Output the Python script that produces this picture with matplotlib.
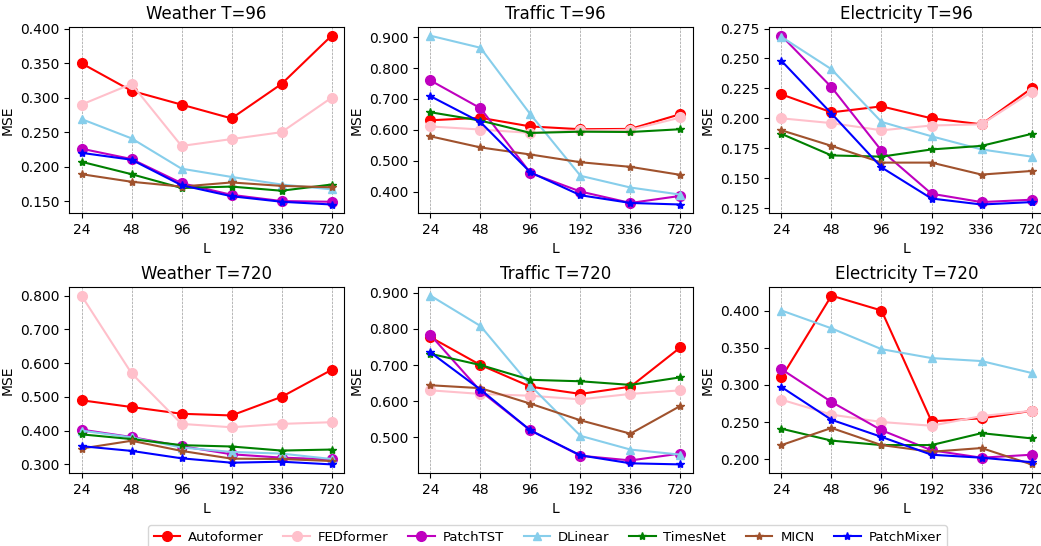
import matplotlib
matplotlib.use('Agg')
import matplotlib.pyplot as plt
from matplotlib.ticker import FormatStrFormatter, MultipleLocator

L = ['24', '48', '96', '192', '336', '720']

models = ['Autoformer', 'FEDformer', 'PatchTST', 'DLinear', 'TimesNet', 'MICN', 'PatchMixer']
colors = ['red', 'pink', 'm', 'skyblue', 'green', 'sienna', 'blue']
markers = ['o', 'o', 'o', '^', '*', '*', '*']

# Weather T=96
weather_96 = [
    [0.350, 0.310, 0.290, 0.270, 0.320, 0.390],
    [0.290, 0.320, 0.230, 0.240, 0.250, 0.300],
    [0.226, 0.211, 0.176, 0.159, 0.150, 0.149],
    [0.269, 0.241, 0.197, 0.185, 0.174, 0.167],
    [0.207, 0.189, 0.169, 0.171, 0.165, 0.174],
    [0.189, 0.178, 0.171, 0.177, 0.172, 0.170],
    [0.220, 0.210, 0.173, 0.157, 0.149, 0.145],
]
# Traffic T=96
traffic_96 = [
    [0.631, 0.639, 0.611, 0.602, 0.603, 0.651],
    [0.611, 0.601, 0.590, 0.598, 0.600, 0.640],
    [0.760, 0.670, 0.460, 0.400, 0.363, 0.386],
    [0.905, 0.866, 0.650, 0.451, 0.413, 0.390],
    [0.657, 0.630, 0.590, 0.594, 0.593, 0.602],
    [0.579, 0.543, 0.520, 0.495, 0.480, 0.454],
    [0.709, 0.625, 0.462, 0.388, 0.363, 0.358],
]
# Electricity T=96
electricity_96 = [
    [0.220, 0.205, 0.210, 0.200, 0.195, 0.225],
    [0.200, 0.196, 0.190, 0.194, 0.195, 0.222],
    [0.269, 0.226, 0.173, 0.137, 0.130, 0.132],
    [0.268, 0.241, 0.197, 0.185, 0.174, 0.168],
    [0.187, 0.169, 0.168, 0.174, 0.177, 0.187],
    [0.190, 0.177, 0.163, 0.163, 0.153, 0.156],
    [0.248, 0.204, 0.159, 0.133, 0.128, 0.130],
]
# Weather T=720
weather_720 = [
    [0.490, 0.470, 0.450, 0.445, 0.500, 0.580],
    [0.800, 0.570, 0.420, 0.410, 0.420, 0.425],
    [0.403, 0.381, 0.354, 0.330, 0.320, 0.315],
    [0.400, 0.380, 0.350, 0.337, 0.332, 0.316],
    [0.389, 0.375, 0.357, 0.353, 0.341, 0.344],
    [0.347, 0.370, 0.340, 0.317, 0.316, 0.310],
    [0.354, 0.340, 0.318, 0.305, 0.308, 0.300],
]
# Traffic T=720
traffic_720 = [
    [0.777, 0.700, 0.640, 0.620, 0.640, 0.749],
    [0.630, 0.620, 0.615, 0.605, 0.620, 0.630],
    [0.783, 0.628, 0.519, 0.449, 0.436, 0.455],
    [0.892, 0.808, 0.643, 0.504, 0.466, 0.452],
    [0.731, 0.700, 0.659, 0.655, 0.645, 0.666],
    [0.644, 0.636, 0.593, 0.547, 0.510, 0.587],
    [0.735, 0.632, 0.519, 0.450, 0.428, 0.425],
]
# Electricity T=720
electricity_720 = [
    [0.310, 0.420, 0.400, 0.251, 0.255, 0.265],
    [0.280, 0.260, 0.250, 0.245, 0.258, 0.265],
    [0.321, 0.277, 0.239, 0.212, 0.202, 0.206],
    [0.400, 0.376, 0.348, 0.336, 0.332, 0.316],
    [0.241, 0.225, 0.219, 0.219, 0.235, 0.228],
    [0.219, 0.242, 0.219, 0.210, 0.215, 0.193],
    [0.297, 0.253, 0.230, 0.206, 0.202, 0.196],
]

panels = [
    ('Weather T=96', weather_96, 0.05), ('Traffic T=96', traffic_96, 0.1),
    ('Electricity T=96', electricity_96, 0.025),
    ('Weather T=720', weather_720, 0.1), ('Traffic T=720', traffic_720, 0.1),
    ('Electricity T=720', electricity_720, 0.05),
]

fig = plt.figure(figsize=(10.41, 5.46), dpi=100)
lefts = [0.0663, 0.4015, 0.7387]
bottoms = [0.610, 0.134]

for i, (title, data, step) in enumerate(panels):
    ax = fig.add_axes([lefts[i % 3], bottoms[i // 3], 0.2642, 0.34])
    for name, vals, c, mk in zip(models, data, colors, markers):
        ms = 7 if mk == 'o' else 6
        ax.plot(L, vals, marker=mk, color=c, markersize=ms, label=name)
    ax.set_title(title)
    ax.set_xlabel('L')
    ax.set_ylabel('MSE')
    ax.yaxis.set_major_locator(MultipleLocator(step))
    ax.yaxis.set_major_formatter(FormatStrFormatter('%.3f'))
    ax.grid(axis='x', linestyle='--', color='gray', linewidth=0.5, alpha=0.8)
    handles, labels = ax.get_legend_handles_labels()

fig.legend(handles, labels, loc='upper center', bbox_to_anchor=(0.526, 0.05), ncol=7,
           fontsize=9.5, columnspacing=1.5, handletextpad=0.6)

plt.savefig('out.png', dpi=100)
